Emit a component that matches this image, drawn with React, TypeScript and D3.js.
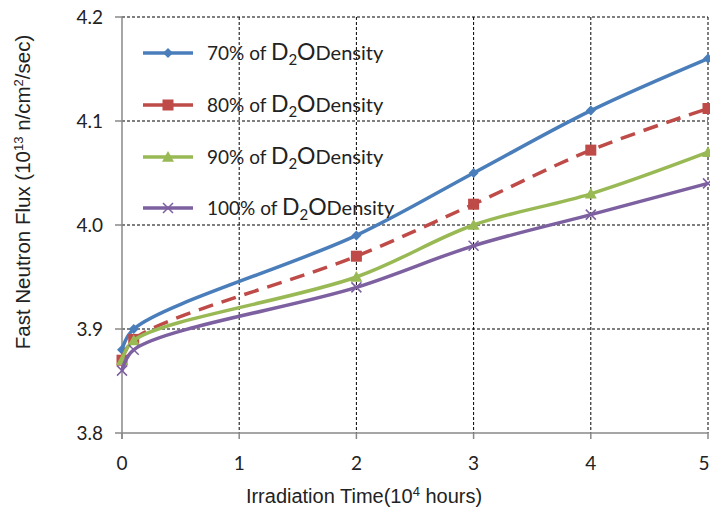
import React from "react";
import * as d3 from "d3";

const xValues = [0, 0.1, 2, 3, 4, 5];
const s70 = [3.88, 3.9, 3.99, 4.05, 4.11, 4.16];
const s80 = [3.87, 3.89, 3.97, 4.02, 4.072, 4.112];
const s90 = [3.87, 3.889, 3.95, 4.0, 4.03, 4.07];
const s100 = [3.86, 3.88, 3.94, 3.98, 4.01, 4.04];
const seriesPct = ["70%", "80%", "90%", "100%"];
const xTicks = [0, 1, 2, 3, 4, 5];
const yTicks = [3.8, 3.9, 4.0, 4.1, 4.2];

const W = 710, H = 520;
const L = 122, R = 708, T = 17, B = 433;

export default function App() {
  const x = d3.scaleLinear().domain([0, 5]).range([L, R]);
  const y = d3.scaleLinear().domain([3.8, 4.2]).range([B, T]);
  const line = d3
    .line<[number, number]>()
    .x((d) => x(d[0]))
    .y((d) => y(d[1]))
    .curve(d3.curveCatmullRom.alpha(0.5));

  const series = [
    { vals: s70, color: "#4a7ebb", marker: "diamond", dash: undefined },
    { vals: s80, color: "#be4b48", marker: "square", dash: "15 9" },
    { vals: s90, color: "#98b954", marker: "triangle", dash: undefined },
    { vals: s100, color: "#7d60a0", marker: "x", dash: undefined },
  ];

  const marker = (type: string, cx: number, cy: number, color: string, key: string) => {
    if (type === "diamond") {
      const s = 5;
      return <path key={key} d={`M${cx},${cy - s}L${cx + s},${cy}L${cx},${cy + s}L${cx - s},${cy}Z`} fill={color} />;
    }
    if (type === "square") {
      const s = 5.5;
      return <rect key={key} x={cx - s} y={cy - s} width={2 * s} height={2 * s} fill={color} />;
    }
    if (type === "triangle") {
      const s = 6;
      return <path key={key} d={`M${cx},${cy - s}L${cx + s},${cy + s * 0.8}L${cx - s},${cy + s * 0.8}Z`} fill={color} />;
    }
    const s = 5;
    return (
      <path key={key} d={`M${cx - s},${cy - s}L${cx + s},${cy + s}M${cx - s},${cy + s}L${cx + s},${cy - s}`} stroke={color} strokeWidth={1.5} fill="none" />
    );
  };

  const legendY = [53, 105, 157, 208];

  return (
    <svg width={W} height={H} style={{ position: "absolute", left: 0, top: 0, background: "#fff" }}>
      <rect width={W} height={H} fill="#fff" />
      {/* gridlines */}
      {yTicks.slice(1).map((t) => (
        <line key={"gy" + t} x1={L} x2={R} y1={y(t)} y2={y(t)} stroke="#000" strokeWidth={1} strokeDasharray="3 2" />
      ))}
      {xTicks.slice(1).map((t) => (
        <line key={"gx" + t} x1={x(t)} x2={x(t)} y1={T} y2={B} stroke="#000" strokeWidth={1} strokeDasharray="3 2" />
      ))}
      {/* axes */}
      <line x1={L} x2={R} y1={B} y2={B} stroke="#888" strokeWidth={1.5} />
      <line x1={L} x2={L} y1={T} y2={B + 6} stroke="#888" strokeWidth={1.5} />
      {yTicks.map((t) => (
        <line key={"ty" + t} x1={L - 7} x2={L} y1={y(t)} y2={y(t)} stroke="#888" strokeWidth={1.5} />
      ))}
      {xTicks.map((t) => (
        <line key={"tx" + t} x1={x(t)} x2={x(t)} y1={B} y2={B + 6} stroke="#888" strokeWidth={1.5} />
      ))}
      {yTicks.map((t) => (
        <text key={"ly" + t} x={103} y={y(t)} dy="0.35em" textAnchor="end" fontFamily="Lato, 'Open Sans', sans-serif" fontSize={19} fill="#222">
          {t.toFixed(1)}
        </text>
      ))}
      {xTicks.map((t) => (
        <text key={"lx" + t} x={Math.min(x(t), 704)} y={463} dy="0.35em" textAnchor="middle" fontFamily="Lato, 'Open Sans', sans-serif" fontSize={19} fill="#222">
          {t}
        </text>
      ))}
      {/* axis titles */}
      <text x={364} y={503} textAnchor="middle" fontFamily="'Liberation Sans', Arial, sans-serif" fontSize={20} fill="#222">
        Irradiation Time(10<tspan dy={-7} fontSize={13}>4</tspan>
        <tspan dy={7}> hours)</tspan>
      </text>
      <text transform="translate(30,192) rotate(-90)" textAnchor="middle" fontFamily="'Liberation Sans', Arial, sans-serif" fontSize={20.5} fill="#222">
        Fast Neutron Flux (10<tspan dy={-7} fontSize={13}>13</tspan>
        <tspan dy={7}> n/cm</tspan>
        <tspan dy={-7} fontSize={13}>2</tspan>
        <tspan dy={7}>/sec)</tspan>
      </text>
      {/* series */}
      {series.map((s, i) => {
        const pts: [number, number][] = xValues.map((xv, j) => [xv, s.vals[j]]);
        return (
          <g key={"s" + i}>
            <path d={line(pts) || ""} fill="none" stroke={s.color} strokeWidth={3.5} strokeDasharray={s.dash} />
            {pts.map((p, j) => marker(s.marker, x(p[0]), y(p[1]), s.color, `m${i}-${j}`))}
          </g>
        );
      })}
      {/* legend */}
      {series.map((s, i) => (
        <g key={"lg" + i}>
          <line x1={143} x2={193} y1={legendY[i]} y2={legendY[i]} stroke={s.color} strokeWidth={3.5} />
          {marker(s.marker, 168, legendY[i], s.color, "lm" + i)}
          <text x={207} y={legendY[i]} dy="0.35em" fontFamily="Lato, 'Open Sans', sans-serif" fontSize={19} fill="#222">
            {seriesPct[i]} of{" "}
            <tspan fontSize={23}>D</tspan>
            <tspan fontSize={15} dy={5}>2</tspan>
            <tspan fontSize={23} dy={-5}>O</tspan>
            <tspan fontSize={20}>Density</tspan>
          </text>
        </g>
      ))}
    </svg>
  );
}
